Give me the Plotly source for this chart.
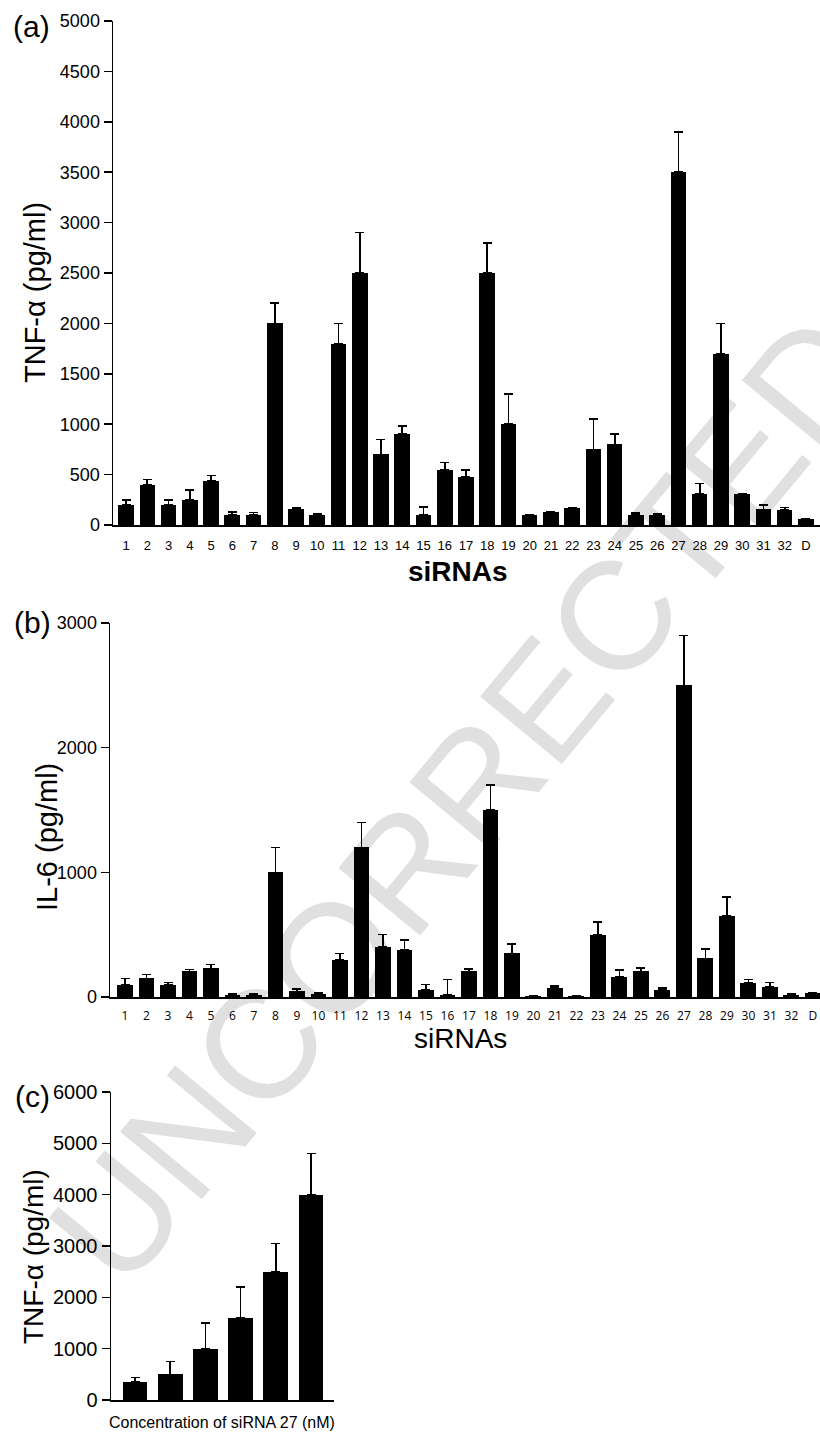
import plotly.graph_objects as go

W, H = 820, 1432

# ---------------- data ----------------
sirna_labels = [str(i) for i in range(1, 33)] + ["D"]

tnf_a = [200, 400, 200, 250, 440, 100, 100, 2000, 155, 100, 1800, 2500, 700, 900,
         100, 550, 480, 2500, 1000, 100, 125, 165, 750, 800, 100, 100, 3500, 310,
         1700, 305, 155, 150, 55]
tnf_a_err = [50, 50, 50, 100, 50, 30, 25, 200, 12, 10, 200, 400, 150, 80,
             80, 70, 65, 300, 300, 5, 5, 5, 300, 100, 18, 15, 400, 100,
             300, 5, 45, 25, 3]

il6 = [100, 150, 100, 205, 230, 20, 20, 1000, 45, 25, 300, 1200, 400, 380,
       55, 20, 205, 1500, 350, 10, 75, 10, 500, 160, 205, 55, 2500, 310,
       650, 110, 80, 20, 30]
il6_err = [50, 30, 15, 15, 30, 5, 8, 200, 20, 12, 50, 200, 100, 75,
           45, 120, 20, 200, 75, 3, 15, 3, 100, 55, 28, 15, 400, 75,
           150, 32, 35, 5, 5]

conc_steps = [1, 2, 3, 4, 5, 6]
tnf_conc = [350, 500, 1000, 1600, 2500, 4000]
tnf_conc_err = [90, 250, 500, 600, 550, 800]

watermark_text = "UNCORRECTED PROOF"

# ---------------- helpers ----------------
FONT = "Liberation Sans, Arial, sans-serif"


def xdom(left, right):
    return [left / W, right / W]


def ydom(top, bottom):
    return [1 - bottom / H, 1 - top / H]


def px(x):
    return x / W


def py(y):
    return 1 - y / H


def bars(x, y, err, xa, ya, width):
    return go.Bar(
        x=x, y=y, xaxis=xa, yaxis=ya, width=width,
        marker=dict(color="black", line=dict(width=0)),
        error_y=dict(type="data", array=err, arrayminus=[0] * len(err),
                     symmetric=False, color="black", thickness=1.6, width=4.5),
        hoverinfo="x+y",
    )


fig = go.Figure()
fig.add_trace(bars(sirna_labels, tnf_a, tnf_a_err, "x", "y", 0.73))
fig.add_trace(bars(sirna_labels, il6, il6_err, "x2", "y2", 0.74))
fig.add_trace(bars(conc_steps, tnf_conc, tnf_conc_err, "x3", "y3", 0.70))

yax = dict(showgrid=False, zeroline=False, showline=True, linecolor="black",
           linewidth=1.5, ticks="outside", ticklen=8, tickwidth=1.5,
           tickcolor="black", tickfont=dict(family=FONT, size=18, color="black"),
           fixedrange=True, automargin=False)
xax = dict(showgrid=False, zeroline=False, showline=True, linecolor="black",
           linewidth=1.5, ticks="", fixedrange=True, automargin=False)

fig.update_layout(
    width=W, height=H,
    margin=dict(l=0, r=0, t=0, b=0, autoexpand=False),
    paper_bgcolor="white", plot_bgcolor="white",
    showlegend=False,
    bargap=0,
    font=dict(family=FONT, color="black"),
    # panel (a)
    xaxis=dict(xax, domain=xdom(113, 820), anchor="y", type="category",
               range=[-0.612, 32.66], tickfont=dict(family=FONT, size=13),
               ticklabelstandoff=8),
    yaxis=dict(yax, domain=ydom(21, 525), anchor="x", range=[0, 5000],
               dtick=500, tick0=0),
    # panel (b)
    xaxis2=dict(xax, domain=xdom(110, 820), anchor="y2", type="category",
                range=[-0.698, 32.33],
                tickfont=dict(family="Open Sans, sans-serif", size=12),
                ticklabelstandoff=7),
    yaxis2=dict(yax, domain=ydom(623, 997), anchor="x2", range=[0, 3000],
                dtick=1000, tick0=0),
    # panel (c)
    xaxis3=dict(xax, domain=xdom(111, 334), anchor="y3", range=[0.318, 6.653],
                showticklabels=False),
    yaxis3=dict(yax, domain=ydom(1092, 1400), anchor="x3", range=[0, 6000],
                dtick=1000, tick0=0, tickfont=dict(family=FONT, size=20, color="black")),
)

ann = []
# proof watermark (moved beneath the bars after drawing)
ann.append(dict(text=watermark_text, x=px(652), y=py(572),
                xref="paper", yref="paper", showarrow=False,
                xanchor="center", yanchor="middle", textangle=-50.4,
                font=dict(family=FONT, size=154, color="#e0e0e0")))
# panel letters
for txt, x, y in [("(a)", 31, 27), ("(b)", 32, 622), ("(c)", 32, 1096)]:
    ann.append(dict(text=txt, x=px(x), y=py(y), xref="paper", yref="paper",
                    showarrow=False, xanchor="center", yanchor="middle",
                    font=dict(family=FONT, size=30, color="black")))
# y-axis titles
for txt, x, y, s in [("TNF-\u03b1 (pg/ml)", 35, 293, 29),
                     ("IL-6 (pg/ml)", 47, 837, 29),
                     ("TNF-\u03b1 (pg/ml)", 33, 1257, 28)]:
    ann.append(dict(text=txt, x=px(x), y=py(y), xref="paper", yref="paper",
                    showarrow=False, xanchor="center", yanchor="middle",
                    textangle=-90, font=dict(family=FONT, size=s, color="black")))
# x-axis titles
ann.append(dict(text="<b>siRNAs</b>", x=px(458), y=py(571), xref="paper", yref="paper",
                showarrow=False, xanchor="center", yanchor="middle",
                font=dict(family=FONT, size=28, color="black")))
ann.append(dict(text="siRNAs", x=px(460), y=py(1038), xref="paper", yref="paper",
                showarrow=False, xanchor="center", yanchor="middle",
                font=dict(family=FONT, size=28, color="black")))
ann.append(dict(text="Concentration of siRNA 27 (nM)", x=px(222), y=py(1422),
                xref="paper", yref="paper", showarrow=False,
                xanchor="center", yanchor="middle",
                font=dict(family=FONT, size=16, color="black")))
fig.update_layout(annotations=ann)

post = """
document.body.style.margin = '0';
document.body.style.overflow = 'hidden';
var gd = document.getElementById('{plot_id}');
var mainSvg = gd.querySelector('svg.main-svg');
var cart = mainSvg ? mainSvg.querySelector('g.cartesianlayer') : null;
gd.querySelectorAll('g.annotation').forEach(function (a) {
    if (a.textContent.indexOf('UNCORRECTED') >= 0 && cart) {
        cart.parentNode.insertBefore(a, cart);
    }
});
"""

fig.write_html("out.html", post_script=post,
               config={"displayModeBar": False, "staticPlot": True})
